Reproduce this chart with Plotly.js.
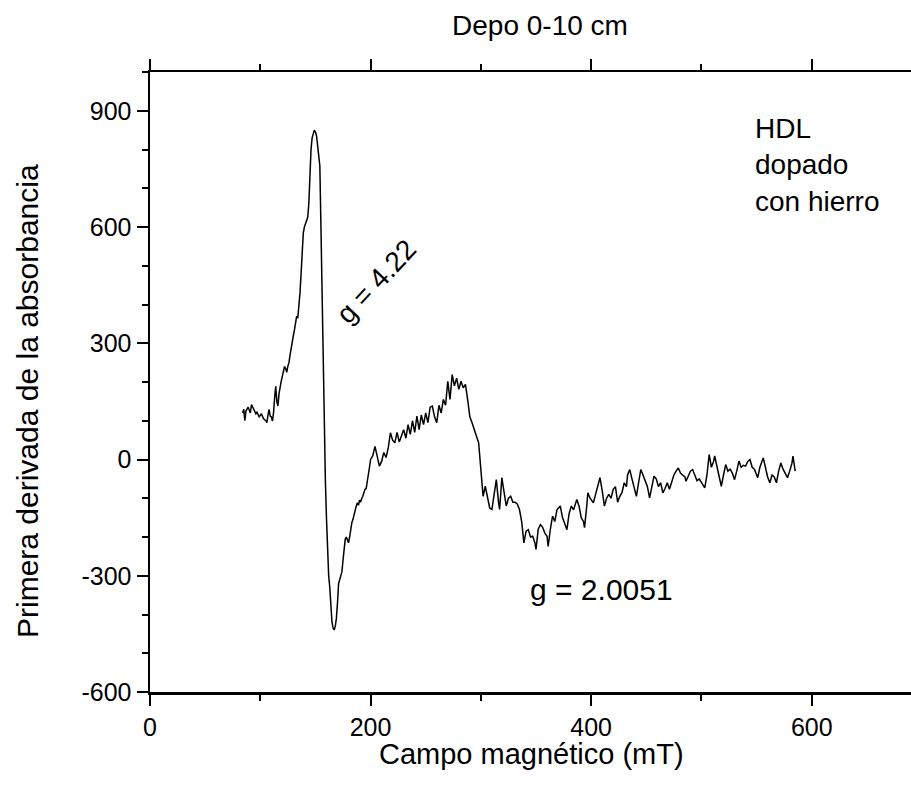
<!DOCTYPE html>
<html>
<head>
<meta charset="utf-8">
<script src="https://cdn.plot.ly/plotly-3.0.1.min.js"></script>
<style>html,body{margin:0;padding:0;background:#fff;}#chart{width:911px;height:786px;}</style>
</head>
<body>
<div id="chart"></div>
<script>
const field = [84,85,86,87,89,91,92,94,96,97,99,101,103,105,106,107,108,109,110,111,112,113,114,115,116,117,118,119,120,121,122,123,124,125,126,127,128,129,130,131,132,133,134,135,136,137,138,139,140,141,142,143,144,145,146,147,148,149,150,151,152,153,154,155,156,157,158,159,160,161,162,163,164,165,166,167,168,169,170,171,172,173,174,175,176,177,178,179,180,181,182,183,184,185,186,187,188,189,190,191,192,193,194,195,196,197,198,199,200,202,204,206,208,210,212,214,216,218,220,222,224,226,228,230,232,234,236,238,240,242,244,246,248,250,252,254,256,258,260,262,264,266,268,270,272,274,276,278,280,282,284,286,288,290,292,294,296,298,300,301,302,304,306,308,310,312,314,316,317,319,321,323,325,327,329,331,333,335,337,339,341,343,345,347,349,350,352,354,356,358,360,361,363,365,367,369,372,374,376,378,380,382,384,387,389,391,393,394,396,397,399,402,404,406,408,410,412,414,416,418,420,422,424,426,428,430,432,433,435,437,439,441,443,445,447,449,451,453,455,457,459,461,463,465,467,469,471,473,475,477,479,481,483,485,486,488,490,492,494,496,498,500,503,505,507,509,511,512,514,516,518,520,522,524,526,528,530,532,534,536,538,540,542,544,546,548,550,551,553,556,558,560,562,564,566,568,570,572,574,576,578,580,582,583,585];
const deriv = [120,130,100,125,135,120,142,130,118,122,110,118,105,100,95,115,129,112,110,99,120,160,189,150,138,170,190,202,215,230,240,235,225,241,250,270,290,310,320,335,352,370,365,395,430,480,540,585,600,608,615,625,660,757,800,830,843,850,845,835,810,785,757,600,420,224,110,-52,-150,-240,-300,-330,-380,-420,-435,-440,-430,-410,-370,-320,-310,-300,-290,-260,-230,-206,-200,-210,-215,-200,-180,-163,-155,-140,-125,-120,-112,-118,-105,-110,-100,-95,-85,-77,-75,-60,-40,-20,0,10,34,10,-17,-5,18,5,30,69,50,43,70,45,60,77,55,90,65,100,70,112,77,115,90,120,95,135,138,110,95,140,120,155,140,202,155,219,190,210,181,202,185,194,155,110,95,80,60,43,-20,-43,-95,-69,-100,-125,-129,-90,-52,-110,-129,-47,-80,-120,-100,-95,-110,-110,-115,-129,-160,-215,-185,-181,-200,-198,-215,-232,-180,-168,-175,-190,-198,-224,-180,-146,-160,-130,-120,-150,-165,-181,-140,-120,-130,-103,-120,-150,-160,-176,-120,-86,-100,-112,-90,-70,-47,-80,-120,-100,-90,-100,-77,-70,-110,-95,-85,-60,-70,-40,-26,-50,-70,-95,-60,-26,-40,-55,-70,-99,-70,-43,-50,-70,-60,-86,-75,-60,-77,-60,-40,-30,-22,-35,-40,-45,-56,-45,-30,-26,-40,-55,-50,-60,-73,-40,13,-20,-5,9,-20,-40,-69,-40,-13,-30,-25,-35,-52,-30,-4,-20,-15,-17,-5,0,-20,-25,-40,-47,-20,4,-20,-45,-60,-40,-45,-60,-30,-9,-25,-35,-47,-30,-10,9,-30];
const yTickVals = [-600,-300,0,300,600,900];
const yTickText = ["-600","-300","0","300","600","900"];
const xTickVals = [0,200,400,600];
const xTickText = ["0","200","400","600"];

const FONT = "Arial, 'Liberation Sans', sans-serif";

const trace = {
  x: field, y: deriv, type: 'scatter', mode: 'lines',
  line: {color: '#000', width: 1.5}, hoverinfo: 'skip'
};

const layout = {
  width: 911, height: 786,
  margin: {l: 150, r: 0, t: 72, b: 94, pad: 0},
  paper_bgcolor: '#fff', plot_bgcolor: '#fff',
  showlegend: false,
  font: {family: FONT, color: '#000'},
  title: {
    text: 'Depo 0-10 cm', font: {family: FONT, size: 28, color: '#000'},
    xref: 'container', x: 540/911, xanchor: 'center',
    yref: 'container', y: 1 - 25/786, yanchor: 'middle'
  },
  xaxis: {
    range: [0, 690], showgrid: false, zeroline: false,
    showline: true, linecolor: '#000', linewidth: 2.5, mirror: 'ticks',
    ticks: 'outside', ticklen: 11, tickwidth: 2, tickcolor: '#000',
    tickvals: xTickVals, ticktext: xTickText,
    tickfont: {family: FONT, size: 25, color: '#000'},
    minor: {dtick: 100, tick0: 0, ticks: 'outside', ticklen: 6, tickwidth: 2, tickcolor: '#000', showgrid: false},
    title: {text: ''},
    automargin: false
  },
  yaxis: {
    range: [-600, 1000], showgrid: false, zeroline: false,
    showline: true, linecolor: '#000', linewidth: 2.5,
    ticks: 'outside', ticklen: 11, tickwidth: 2, tickcolor: '#000',
    tickvals: yTickVals, ticktext: yTickText,
    tickfont: {family: FONT, size: 25, color: '#000'},
    minor: {dtick: 100, tick0: 0, ticks: 'outside', ticklen: 6, tickwidth: 2, tickcolor: '#000', showgrid: false},
    title: {text: ''},
    automargin: false
  },
  annotations: [
    {text: 'Campo magnético (mT)', xref: 'paper', yref: 'paper',
     x: (531 - 150) / 761, y: (692 - 754) / 620,
     xanchor: 'center', yanchor: 'middle', showarrow: false,
     font: {family: FONT, size: 29, color: '#000'}},
    {text: 'Primera derivada de la absorbancia', xref: 'paper', yref: 'paper',
     x: (27 - 150) / 761, y: (692 - 401) / 620, textangle: -90,
     xanchor: 'center', yanchor: 'middle', showarrow: false,
     font: {family: FONT, size: 30, color: '#000'}},
    {text: 'HDL<br>dopado<br>con hierro', xref: 'x', yref: 'y', x: 547, y: 900,
     xanchor: 'left', yanchor: 'top', align: 'left', showarrow: false,
     font: {family: FONT, size: 28, color: '#000'}},
    {text: 'g = 4.22', xref: 'x', yref: 'y', x: 205, y: 460, textangle: -47,
     xanchor: 'center', yanchor: 'middle', showarrow: false,
     font: {family: FONT, size: 28, color: '#000'}},
    {text: 'g = 2.0051', xref: 'x', yref: 'y', x: 409, y: -335,
     xanchor: 'center', yanchor: 'middle', showarrow: false,
     font: {family: FONT, size: 30, color: '#000'}}
  ]
};

Plotly.newPlot('chart', [trace], layout, {staticPlot: true, displayModeBar: false});
</script>
</body>
</html>
